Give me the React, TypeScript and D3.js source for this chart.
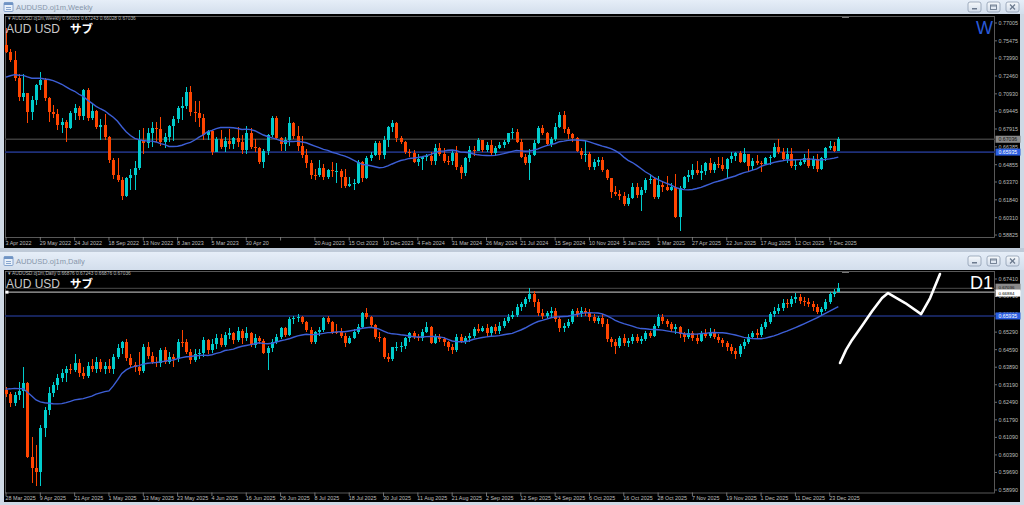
import React from 'react';
import * as d3 from 'd3';

const W = 1024;
const H = 505;

// weekly AUDUSD, bars from 3 Apr 2022 to 21 Dec 2025, prices in pips
const weeklyPrior = [7130, 7040, 7170, 7120, 7210, 7260, 7160, 7230, 7180, 7020, 7110, 7130, 7180, 7240, 7360, 7300, 7410, 7500, 7510];
const weeklyFirstOpen = 7510;
const weeklyClose = [
  7455, 7383, 7226, 7069, 7097, 6940, 7040, 7169, 7212, 7054,
  6940, 6920, 6826, 6854, 6797, 6926, 6969, 6900, 7126, 6883,
  6945, 6811, 6826, 6725, 6525, 6396, 6353, 6220, 6368, 6400,
  6454, 6697, 6672, 6754, 6797, 6790, 6683, 6720, 6820, 6877,
  6974, 6990, 7112, 6940, 6925, 6883, 6740, 6774, 6597, 6706,
  6640, 6688, 6666, 6711, 6682, 6611, 6754, 6640, 6625, 6511,
  6603, 6740, 6883, 6711, 6660, 6697, 6840, 6731, 6646, 6568,
  6500, 6397, 6395, 6454, 6377, 6440, 6430, 6430, 6377, 6300,
  6320, 6330, 6511, 6370, 6540, 6570, 6670, 6570, 6697, 6811,
  6840, 6711, 6683, 6597, 6583, 6511, 6531, 6554, 6560, 6520,
  6626, 6580, 6520, 6515, 6583, 6463, 6411, 6540, 6612, 6605,
  6697, 6611, 6654, 6583, 6625, 6654, 6683, 6754, 6765, 6683,
  6549, 6503, 6568, 6674, 6797, 6760, 6663, 6705, 6811, 6911,
  6788, 6748, 6715, 6600, 6570, 6580, 6465, 6511, 6525, 6440,
  6370, 6250, 6230, 6220, 6150, 6200, 6290, 6225, 6270, 6354,
  6360, 6210, 6310, 6290, 6270, 6290, 6039, 6283, 6377, 6400,
  6440, 6410, 6430, 6497, 6440, 6490, 6480, 6445, 6530, 6560,
  6583, 6510, 6577, 6470, 6520, 6503, 6490, 6540, 6554, 6640,
  6595, 6535, 6580, 6475, 6480, 6510, 6540, 6475, 6534, 6446,
  6540, 6625, 6646, 6603, 6704,
];
const weeklyHigh = [
  7661, 7480, 7460, 7265, 7266, 7100, 7075, 7180, 7283, 7230,
  7070, 7000, 6960, 6890, 6870, 6950, 7010, 6990, 7137, 7140,
  7010, 6955, 6880, 6916, 6730, 6540, 6547, 6380, 6380, 6450,
  6520, 6780, 6800, 6800, 6850, 6850, 6893, 6760, 6830, 6900,
  6990, 7063, 7154, 7158, 7030, 7030, 6920, 6780, 6780, 6720,
  6780, 6720, 6790, 6720, 6806, 6740, 6818, 6800, 6710, 6640,
  6620, 6750, 6900, 6900, 6720, 6720, 6895, 6850, 6820, 6730,
  6620, 6525, 6450, 6522, 6490, 6450, 6510, 6500, 6445, 6445,
  6380, 6360, 6522, 6520, 6560, 6590, 6690, 6690, 6730, 6820,
  6871, 6850, 6730, 6690, 6620, 6610, 6580, 6560, 6580, 6590,
  6667, 6670, 6630, 6560, 6600, 6645, 6480, 6550, 6650, 6650,
  6714, 6700, 6680, 6700, 6650, 6680, 6700, 6760, 6798, 6790,
  6710, 6580, 6620, 6700, 6820, 6824, 6770, 6720, 6840, 6940,
  6942, 6810, 6760, 6720, 6630, 6690, 6590, 6530, 6550, 6550,
  6450, 6370, 6300, 6270, 6250, 6230, 6330, 6330, 6290, 6370,
  6408, 6380, 6390, 6340, 6390, 6330, 6408, 6300, 6390, 6440,
  6490, 6515, 6480, 6510, 6540, 6510, 6550, 6550, 6540, 6590,
  6595, 6600, 6625, 6580, 6540, 6570, 6520, 6550, 6570, 6669,
  6707, 6630, 6630, 6630, 6530, 6530, 6580, 6620, 6560, 6580,
  6550, 6640, 6691, 6680, 6724,
];
const weeklyLow = [
  7440, 7370, 7200, 7030, 7030, 6840, 6870, 7000, 7130, 7035,
  6850, 6890, 6780, 6760, 6681, 6790, 6870, 6870, 6870, 6860,
  6870, 6790, 6700, 6700, 6500, 6363, 6340, 6183, 6210, 6272,
  6272, 6440, 6580, 6630, 6640, 6680, 6650, 6630, 6680, 6690,
  6840, 6870, 6960, 6900, 6855, 6810, 6700, 6695, 6565, 6590,
  6620, 6590, 6620, 6620, 6640, 6575, 6575, 6620, 6590, 6490,
  6460, 6570, 6720, 6700, 6600, 6600, 6650, 6710, 6600, 6540,
  6460, 6365, 6350, 6380, 6357, 6360, 6380, 6330, 6286, 6285,
  6290, 6270, 6320, 6340, 6360, 6520, 6560, 6525, 6530, 6640,
  6770, 6680, 6660, 6580, 6550, 6500, 6470, 6440, 6520, 6480,
  6480, 6560, 6500, 6480, 6480, 6440, 6362, 6390, 6510, 6560,
  6600, 6590, 6590, 6570, 6560, 6620, 6630, 6660, 6710, 6670,
  6540, 6480, 6354, 6560, 6660, 6740, 6650, 6640, 6690, 6800,
  6760, 6710, 6680, 6590, 6530, 6510, 6440, 6440, 6470, 6420,
  6350, 6200, 6220, 6180, 6130, 6130, 6190, 6200, 6088, 6240,
  6320, 6190, 6190, 6250, 6260, 6260, 6030, 5914, 6280, 6340,
  6360, 6400, 6355, 6400, 6410, 6410, 6460, 6430, 6370, 6500,
  6520, 6500, 6500, 6420, 6440, 6480, 6420, 6480, 6480, 6540,
  6580, 6520, 6500, 6460, 6440, 6470, 6490, 6460, 6450, 6420,
  6440, 6520, 6610, 6590, 6603,
];
const weeklyDates = [
  '3 Apr 2022', '29 May 2022', '24 Jul 2022', '18 Sep 2022', '13 Nov 2022', '8 Jan 2023', '5 Mar 2023',
  '30 Apr 20', '', '20 Aug 2023', '15 Oct 2023', '10 Dec 2023', '4 Feb 2024', '31 Mar 2024', '26 May 2024',
  '21 Jul 2024', '15 Sep 2024', '10 Nov 2024', '5 Jan 2025', '2 Mar 2025', '27 Apr 2025', '22 Jun 2025',
  '17 Aug 2025', '12 Oct 2025', '7 Dec 2025',
];
const weeklyPrices = [0.77005, 0.75475, 0.7399, 0.7246, 0.7093, 0.69445, 0.67915, 0.66385, 0.64855, 0.6337, 0.6184, 0.6031, 0.58825];

// daily AUDUSD, bars from 28 Mar 2025 to 26 Dec 2025, prices in pips
const dailyPrior = [6220, 6240, 6320, 6330, 6310, 6280, 6290, 6300, 6290, 6320, 6360, 6360, 6340, 6300, 6280, 6290, 6310, 6310, 6298];
const dailyFirstOpen = 6298;
const dailyClose = [
  6282, 6245, 6278, 6295, 6325, 6032, 5985, 5970, 6145, 6217,
  6285, 6320, 6345, 6365, 6380, 6377, 6407, 6364, 6355, 6395,
  6380, 6410, 6383, 6395, 6380, 6428, 6464, 6490, 6424, 6398,
  6391, 6372, 6471, 6434, 6411, 6405, 6458, 6411, 6430, 6420,
  6491, 6490, 6451, 6418, 6440, 6445, 6497, 6458, 6482, 6504,
  6477, 6517, 6525, 6498, 6533, 6504, 6524, 6478, 6504, 6492,
  6444, 6464, 6491, 6511, 6544, 6517, 6580, 6584, 6588, 6571,
  6537, 6491, 6530, 6538, 6584, 6571, 6531, 6530, 6515, 6485,
  6505, 6531, 6551, 6604, 6591, 6557, 6511, 6504, 6428, 6420,
  6468, 6470, 6474, 6504, 6524, 6511, 6505, 6531, 6550, 6487,
  6510, 6500, 6488, 6470, 6458, 6510, 6495, 6505, 6512, 6540,
  6535, 6545, 6525, 6548, 6532, 6555, 6575, 6590, 6598, 6628,
  6640, 6660, 6680, 6650, 6605, 6595, 6605, 6612, 6580, 6545,
  6555, 6570, 6612, 6600, 6615, 6605, 6590, 6575, 6585, 6560,
  6500, 6488, 6475, 6505, 6485, 6492, 6510, 6495, 6502, 6525,
  6515, 6555, 6590, 6572, 6560, 6540, 6548, 6520, 6510, 6525,
  6505, 6495, 6525, 6515, 6530, 6510, 6498, 6485, 6470, 6455,
  6440, 6472, 6490, 6510, 6525, 6518, 6550, 6570, 6600, 6612,
  6625, 6645, 6640, 6660, 6668, 6655, 6650, 6642, 6630, 6610,
  6620, 6650, 6680, 6688, 6704,
];
const dailyHigh = [
  6310, 6290, 6290, 6331, 6391, 6330, 6110, 6080, 6160, 6230,
  6310, 6330, 6360, 6380, 6395, 6400, 6440, 6420, 6390, 6410,
  6420, 6430, 6420, 6410, 6420, 6440, 6480, 6494, 6500, 6440,
  6410, 6450, 6480, 6490, 6450, 6430, 6465, 6470, 6450, 6440,
  6500, 6537, 6500, 6460, 6460, 6460, 6510, 6500, 6500, 6520,
  6520, 6530, 6545, 6530, 6550, 6540, 6550, 6530, 6520, 6515,
  6500, 6475, 6500, 6520, 6550, 6550, 6590, 6595, 6600, 6595,
  6575, 6550, 6535, 6550, 6590, 6595, 6575, 6560, 6545, 6525,
  6515, 6540, 6560, 6610, 6624, 6595, 6560, 6530, 6510, 6445,
  6470, 6490, 6490, 6510, 6530, 6535, 6520, 6540, 6568, 6555,
  6520, 6520, 6510, 6495, 6480, 6520, 6520, 6515, 6525, 6550,
  6560, 6555, 6560, 6555, 6560, 6570, 6585, 6600, 6615, 6640,
  6650, 6670, 6707, 6695, 6660, 6620, 6615, 6630, 6625, 6590,
  6565, 6580, 6620, 6625, 6630, 6625, 6620, 6600, 6595, 6600,
  6580, 6510, 6500, 6515, 6520, 6505, 6520, 6520, 6515, 6535,
  6535, 6560, 6600, 6600, 6580, 6570, 6560, 6555, 6530, 6540,
  6535, 6520, 6535, 6540, 6545, 6540, 6520, 6505, 6495, 6480,
  6465, 6480, 6500, 6520, 6535, 6540, 6560, 6580, 6610, 6630,
  6640, 6660, 6660, 6675, 6685, 6680, 6670, 6665, 6655, 6640,
  6630, 6660, 6690, 6700, 6724,
];
const dailyLow = [
  6270, 6230, 6235, 6260, 6225, 6025, 5925, 5915, 5913, 6110,
  6200, 6270, 6300, 6330, 6330, 6360, 6370, 6350, 6340, 6345,
  6370, 6365, 6370, 6360, 6365, 6360, 6420, 6440, 6415, 6385,
  6370, 6358, 6365, 6420, 6400, 6390, 6390, 6400, 6400, 6390,
  6410, 6470, 6440, 6400, 6410, 6420, 6430, 6440, 6445, 6460,
  6470, 6470, 6500, 6480, 6490, 6480, 6495, 6470, 6465, 6480,
  6440, 6378, 6450, 6480, 6500, 6510, 6515, 6560, 6570, 6560,
  6530, 6480, 6480, 6515, 6530, 6560, 6520, 6520, 6505, 6470,
  6480, 6500, 6520, 6545, 6580, 6550, 6500, 6490, 6420, 6410,
  6415, 6455, 6450, 6460, 6490, 6500, 6495, 6495, 6525, 6480,
  6480, 6490, 6475, 6455, 6440, 6450, 6485, 6480, 6490, 6505,
  6525, 6530, 6510, 6515, 6520, 6520, 6545, 6565, 6580, 6590,
  6615, 6630, 6650, 6630, 6595, 6580, 6585, 6590, 6570, 6530,
  6530, 6545, 6560, 6590, 6590, 6595, 6575, 6565, 6560, 6550,
  6490, 6470, 6440, 6465, 6475, 6470, 6480, 6485, 6480, 6495,
  6505, 6510, 6545, 6560, 6550, 6530, 6520, 6505, 6490, 6500,
  6495, 6480, 6490, 6505, 6505, 6500, 6485, 6470, 6455, 6440,
  6420, 6430, 6460, 6480, 6500, 6505, 6510, 6540, 6560, 6590,
  6600, 6615, 6625, 6630, 6645, 6640, 6635, 6630, 6615, 6600,
  6595, 6615, 6640, 6670, 6688,
];
const dailyDates = [
  '28 Mar 2025', '9 Apr 2025', '21 Apr 2025', '1 May 2025', '13 May 2025', '23 May 2025', '4 Jun 2025',
  '16 Jun 2025', '26 Jun 2025', '8 Jul 2025', '18 Jul 2025', '30 Jul 2025', '11 Aug 2025', '21 Aug 2025',
  '2 Sep 2025', '12 Sep 2025', '24 Sep 2025', '6 Oct 2025', '16 Oct 2025', '28 Oct 2025', '7 Nov 2025',
  '19 Nov 2025', '1 Dec 2025', '11 Dec 2025', '23 Dec 2025',
];
const dailyPrices = [0.6741, 0.6671, 0.6601, 0.6529, 0.6459, 0.6389, 0.6319, 0.6249, 0.6179, 0.6109, 0.6039, 0.5969, 0.5899];

// freehand stroke on the daily chart (bar index, price)
const sketchBar = [194.4, 195.8, 197.2, 199.5, 201.9, 204.2, 205.6, 209.6, 213.3, 215.4, 217.7];
const sketchPrice = [0.6406, 0.6458, 0.6498, 0.6553, 0.6613, 0.6665, 0.6685, 0.6645, 0.6601, 0.6665, 0.6761];

const BID = 0.67036;
const BLUE_LEVEL = 0.65935;
const WHITE_LEVEL = 0.66884;
const MA_PERIOD = 20;
const BARS_SHOWN = 195;

const UP = '#00cccc';
const DOWN = '#ff4500';
const SMALL = "'Liberation Sans', Arial, sans-serif";

type Bar = { o: number; h: number; l: number; c: number };

const toBars = (firstOpen: number, close: number[], high: number[], low: number[]): Bar[] =>
  close.map((c, i) => {
    const o = i === 0 ? firstOpen : close[i - 1];
    return {
      o: o / 1e4,
      c: c / 1e4,
      h: Math.max(high[i], o, c) / 1e4,
      l: Math.min(low[i], o, c) / 1e4,
    };
  });

const sma = (prior: number[], close: number[], n: number) => {
  const all = prior.concat(close);
  return close.map((_, i) => {
    const j = i + prior.length;
    return (d3.mean(all.slice(j - n + 1, j + 1)) as number) / 1e4;
  });
};

const Buttons = ({ y }: { y: number }) => (
  <g>
    {[968, 987, 1006].map((bx, k) => (
      <g key={k}>
        <rect x={bx} y={y} width={13} height={10} rx={2} fill="url(#btn)" stroke="#8d9cb0" strokeWidth={0.8} />
        {k === 0 && <rect x={bx + 4} y={y + 6} width={5} height={1.5} fill="#6c7a8e" />}
        {k === 1 && (
          <g fill="none" stroke="#6c7a8e" strokeWidth={0.9}>
            <rect x={bx + 3.5} y={y + 3} width={6} height={4.5} />
            <line x1={bx + 3.5} x2={bx + 9.5} y1={y + 4} y2={y + 4} />
          </g>
        )}
        {k === 2 && (
          <g stroke="#6c7a8e" strokeWidth={1.2}>
            <line x1={bx + 4} x2={bx + 9} y1={y + 2.5} y2={y + 7.5} />
            <line x1={bx + 9} x2={bx + 4} y1={y + 2.5} y2={y + 7.5} />
          </g>
        )}
      </g>
    ))}
  </g>
);

type PaneProps = {
  id: string;
  titleTop: number;
  chartTop: number;
  chartBottom: number;
  plotTop: number;
  plotBottom: number;
  domain: [number, number];
  range: [number, number];
  title: string;
  header: string;
  tf: string;
  tfColor: string;
  bars: Bar[];
  ma: number[];
  dates: string[];
  prices: number[];
  white?: boolean;
  sketch?: boolean;
};

const Pane = (p: PaneProps) => {
  const x = d3.scaleLinear().domain([0, BARS_SHOWN - 1]).range([6, 838.3]);
  const y = d3.scaleLinear().domain(p.domain).range(p.range);
  const maLine = d3
    .line<number>()
    .x((_, i) => x(i))
    .y(d => y(d))(p.ma);
  const sketchLine = d3
    .line<number>()
    .x(d => x(d))
    .y((_, i) => y(sketchPrice[i]))(sketchBar);
  const clip = `clip-${p.id}`;
  // boxes on the price scale; the bid and white boxes sit close, so nudge their text apart
  const boxes = [
    { v: BID, fill: '#8a8a8a', text: '#111', dy: p.white ? -1.2 : 0 },
    ...(p.white ? [{ v: WHITE_LEVEL, fill: '#ffffff', text: '#000', dy: 0.9 }] : []),
    { v: BLUE_LEVEL, fill: '#2b5ee0', text: '#ffffff', dy: 0 },
  ];
  const tbMid = p.titleTop + (p.chartTop - p.titleTop) / 2;

  return (
    <g>
      <defs>
        <clipPath id={clip}>
          <rect x={5} y={p.plotTop} width={990} height={p.plotBottom - p.plotTop} />
        </clipPath>
      </defs>
      {/* window title bar */}
      <rect x={0} y={p.titleTop} width={W} height={p.chartTop - p.titleTop} fill="url(#title)" />
      <g transform={`translate(4,${tbMid - 4.5})`}>
        <rect x={0} y={0} width={9} height={9} rx={1} fill="#e9f1fa" stroke="#6f93c4" strokeWidth={0.8} />
        <rect x={0} y={0} width={9} height={2.5} fill="#6f93c4" />
        <line x1={2} x2={7} y1={5} y2={5} stroke="#6f93c4" strokeWidth={0.8} />
        <line x1={2} x2={7} y1={7} y2={7} stroke="#6f93c4" strokeWidth={0.8} />
      </g>
      <text x={16} y={tbMid + 2.8} fontFamily={SMALL} fontSize={7.5} fill="#8796aa">
        {p.title}
      </text>
      <Buttons y={tbMid - 5} />

      {/* chart area */}
      <rect x={4} y={p.chartTop} width={1016} height={p.chartBottom - p.chartTop} fill="#000" />
      <rect
        x={5.5}
        y={p.plotTop + 0.5}
        width={989}
        height={p.plotBottom - p.plotTop}
        fill="none"
        stroke="#6e6e6e"
        strokeWidth={0.8}
      />

      {/* price scale */}
      {p.prices.map(v => (
        <g key={v}>
          <line x1={995} x2={997} y1={y(v)} y2={y(v)} stroke="#8a8a8a" strokeWidth={0.8} />
          <text x={998.5} y={y(v)} dy="0.35em" fontFamily={SMALL} fontSize={5.4} fill="#bdbdbd">
            {v.toFixed(5)}
          </text>
        </g>
      ))}

      {/* time scale */}
      {p.dates.map((d, k) => {
        const tx = x(k * 8);
        return (
          <g key={k}>
            <line x1={tx} x2={tx} y1={p.plotBottom} y2={p.plotBottom + 3.5} stroke="#8a8a8a" strokeWidth={0.8} />
            {d && (
              <text x={tx - 0.5} y={p.plotBottom + 7.5} fontFamily={SMALL} fontSize={5.4} fill="#bdbdbd">
                {d}
              </text>
            )}
          </g>
        );
      })}

      <g clipPath={`url(#${clip})`}>
        {/* horizontal levels */}
        <line x1={5} x2={995} y1={y(BID)} y2={y(BID)} stroke="#3c3c3c" strokeWidth={1.4} />
        <line x1={5} x2={995} y1={y(BLUE_LEVEL)} y2={y(BLUE_LEVEL)} stroke="#1e2f78" strokeWidth={1.6} />
        {p.white && (
          <>
            <line x1={5} x2={995} y1={y(WHITE_LEVEL)} y2={y(WHITE_LEVEL)} stroke="#a8a8a8" strokeWidth={1.3} />
            <rect x={5.5} y={y(WHITE_LEVEL) - 1.5} width={3} height={3} fill="#fff" />
          </>
        )}

        {/* candles */}
        <g shapeRendering="crispEdges">
          {p.bars.map((b, i) => {
            const cx = Math.round(x(i));
            const col = b.c >= b.o ? UP : DOWN;
            const top = y(Math.max(b.o, b.c));
            const bot = y(Math.min(b.o, b.c));
            return (
              <g key={i}>
                <rect x={cx} y={y(b.h)} width={1} height={y(b.l) - y(b.h)} fill={col} />
                <rect x={cx - 1} y={top} width={3} height={Math.max(1, bot - top)} fill={col} />
              </g>
            );
          })}
        </g>

        {/* moving average */}
        <path d={maLine ?? ''} fill="none" stroke="#3d5fd6" strokeWidth={1.4} />

        {p.sketch && (
          <path
            d={sketchLine ?? ''}
            fill="none"
            stroke="#ffffff"
            strokeWidth={2.6}
            strokeLinecap="round"
            strokeLinejoin="round"
          />
        )}
      </g>

      {/* shift marker */}
      <path d={`M842,${p.plotTop + 1.5} L849,${p.plotTop + 1.5}`} stroke="#777" strokeWidth={1} />

      {/* level boxes on the price scale */}
      {boxes.map(bx => (
        <g key={bx.v}>
          <rect x={995.5} y={y(bx.v) + bx.dy - 3.5} width={25} height={7} fill={bx.fill} />
          <text
            x={998.5}
            y={y(bx.v) + bx.dy}
            dy="0.35em"
            fontFamily={SMALL}
            fontSize={p.white && bx.v !== BLUE_LEVEL ? 4.4 : 5.2}
            fill={bx.text}
          >
            {bx.v.toFixed(5)}
          </text>
        </g>
      ))}

      {/* chart header */}
      <text x={8} y={p.plotTop + 4.2} fontFamily={SMALL} fontSize={4.8} fill="#b8b8b8">
        {'\u25BE  ' + p.header}
      </text>
      <text x={6} y={p.plotTop + 17} fontFamily={SMALL} fontSize={12} fill="#c9c9c9">
        AUD USD
      </text>
      <text
        x={70}
        y={p.plotTop + 17}
        fontFamily="'Noto Sans CJK JP', sans-serif"
        fontWeight={700}
        fontSize={11.5}
        fill="#ffffff"
      >
        サブ
      </text>
      <text
        x={993}
        y={p.plotTop + 18}
        textAnchor="end"
        fontFamily={SMALL}
        fontSize={18}
        fill={p.tfColor}
      >
        {p.tf}
      </text>
    </g>
  );
};

const App = () => {
  const weeklyBars = toBars(weeklyFirstOpen, weeklyClose, weeklyHigh, weeklyLow);
  const dailyBars = toBars(dailyFirstOpen, dailyClose, dailyHigh, dailyLow);
  const weeklyMa = sma(weeklyPrior, weeklyClose, MA_PERIOD);
  const dailyMa = sma(dailyPrior, dailyClose, MA_PERIOD);

  return (
    <div style={{ position: 'absolute', left: 0, top: 0, width: W, height: H }}>
      <svg width={W} height={H} viewBox={`0 0 ${W} ${H}`} style={{ display: 'block' }}>
        <defs>
          <linearGradient id="title" x1="0" x2="0" y1="0" y2="1">
            <stop offset="0" stopColor="#e6eef8" />
            <stop offset="1" stopColor="#d3deec" />
          </linearGradient>
          <linearGradient id="btn" x1="0" x2="0" y1="0" y2="1">
            <stop offset="0" stopColor="#f6f9fc" />
            <stop offset="1" stopColor="#d2dcea" />
          </linearGradient>
        </defs>
        <rect x={0} y={0} width={W} height={H} fill="#cfd9e5" />
        <rect x={0} y={248} width={W} height={4} fill="#bfcad8" />

        <Pane
          id="w"
          titleTop={0}
          chartTop={14}
          chartBottom={248}
          plotTop={16}
          plotBottom={237}
          domain={[0.58825, 0.77005]}
          range={[235, 23]}
          title="AUDUSD.oj1m,Weekly"
          header="AUDUSD.oj1m,Weekly  0.66033 0.67243 0.66028 0.67036"
          tf="W"
          tfColor="#2a5ad8"
          bars={weeklyBars}
          ma={weeklyMa}
          dates={weeklyDates}
          prices={weeklyPrices}
        />
        <Pane
          id="d"
          titleTop={252}
          chartTop={270}
          chartBottom={502}
          plotTop={271}
          plotBottom={492.5}
          domain={[0.5899, 0.6741]}
          range={[490, 279]}
          title="AUDUSD.oj1m,Daily"
          header="AUDUSD.oj1m,Daily  0.66876 0.67243 0.66876 0.67036"
          tf="D1"
          tfColor="#ffffff"
          bars={dailyBars}
          ma={dailyMa}
          dates={dailyDates}
          prices={dailyPrices}
          white
          sketch
        />
      </svg>
    </div>
  );
};

export default App;
